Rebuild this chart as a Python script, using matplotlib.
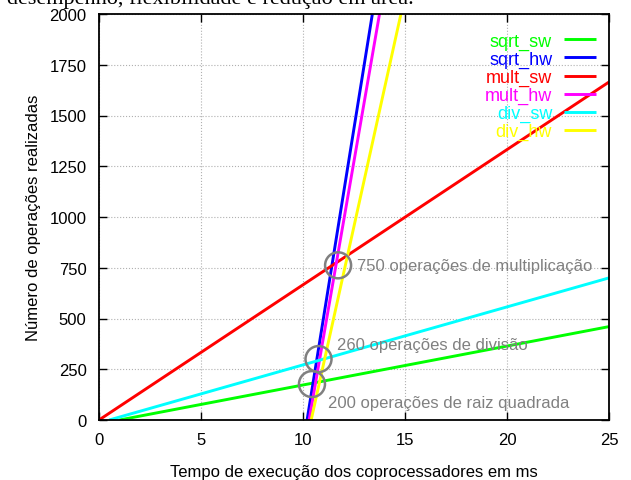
import matplotlib
matplotlib.use('Agg')
from matplotlib import pyplot as plt
from matplotlib.patches import Ellipse

plt.rcParams['font.family'] = ['Liberation Sans', 'DejaVu Sans']

# x (ms) / y (operacoes) endpoints of each curve
sqrt_sw_x = [1.0, 25.0]
sqrt_sw_y = [0, 460]
sqrt_hw_x = [10.2, 13.4]
sqrt_hw_y = [0, 2000]
mult_sw_x = [0.0, 25.0]
mult_sw_y = [0, 1665]
mult_hw_x = [10.3, 13.75]
mult_hw_y = [0, 2000]
div_sw_x = [0.5, 25.0]
div_sw_y = [0, 700]
div_hw_x = [10.4, 14.8]
div_hw_y = [0, 2000]

series = [
    ('sqrt_sw', sqrt_sw_x, sqrt_sw_y, '#00ff00'),
    ('sqrt_hw', sqrt_hw_x, sqrt_hw_y, '#0000ff'),
    ('mult_sw', mult_sw_x, mult_sw_y, '#ff0000'),
    ('mult_hw', mult_hw_x, mult_hw_y, '#ff00ff'),
    ('div_sw', div_sw_x, div_sw_y, '#00ffff'),
    ('div_hw', div_hw_x, div_hw_y, '#ffff00'),
]

# intersection marks and their notes
marks_x = [11.72, 10.76, 10.44]
marks_y = [762, 300, 177]
notes = ['750 operações de multiplicação', '260 operações de divisão',
         '200 operações de raiz quadrada']
notes_x = [12.65, 11.67, 11.22]
notes_y = [762, 373, 84]

fig = plt.figure(figsize=(6.31, 4.81), dpi=100)
ax = fig.add_axes([99 / 631, 60 / 481, 510 / 631, 406 / 481])

for name, xs, ys, col in series:
    ax.plot(xs, ys, color=col, lw=2.1, label=name, solid_capstyle='butt')

ax.set_xlim(0, 25)
ax.set_ylim(0, 2000)
ax.set_xticks([0, 5, 10, 15, 20, 25])
ax.set_yticks(range(0, 2001, 250))
ax.tick_params(direction='in', top=True, right=True, labelsize=12, length=6, width=1, pad=9)
ax.grid(True, color='#b0b0b0', linestyle=':', lw=0.8)
for s in ax.spines.values():
    s.set_linewidth(1.3)

# circles: ~26px across on both axes
for mx, my in zip(marks_x, marks_y):
    ax.add_patch(Ellipse((mx, my), 26 / 20.4, 26 / 0.203, fill=False,
                         edgecolor='#808080', lw=1.8, zorder=5))
for t, tx, ty in zip(notes, notes_x, notes_y):
    ax.text(tx, ty, t, color='#808080', fontsize=12, va='center', ha='left')

leg = ax.legend(loc='upper right', markerfirst=False, frameon=False, fontsize=13,
                handlelength=1.8, handletextpad=0.65, labelspacing=0.05,
                borderaxespad=0.3, bbox_to_anchor=(1.0, 0.985))
for txt, line in zip(leg.get_texts(), leg.get_lines()):
    txt.set_color(line.get_color())
    txt.set_ha('right')
leg._legend_box.align = 'right'

ax.set_xlabel('Tempo de execução dos coprocessadores em ms', fontsize=12, labelpad=12)
ax.set_ylabel('Número de operações realizadas', fontsize=12, labelpad=6)

# clipped caption line from the page above the figure
fig.text(0.011, 1 - 4 / 481, 'desempenho, flexibilidade e redução em área.',
         family=['Liberation Serif'], fontsize=16, va='baseline', ha='left')

fig.savefig('out.png', dpi=100)
